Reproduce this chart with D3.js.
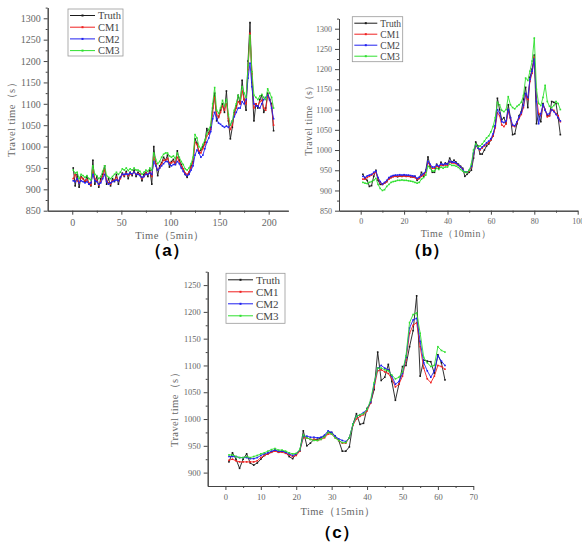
<!DOCTYPE html>
<html>
<head>
<meta charset="utf-8">
<script src="https://cdn.jsdelivr.net/npm/d3@7"></script>
<style>
  body { margin: 0; background: #fff; }
</style>
</head>
<body>
<div id="chart"></div>
<script>
// Series names and colours (shared by the three panels)
const seriesNames = ["Truth", "CM1", "CM2", "CM3"];
const seriesColors = ["#1a1a1a", "#f02020", "#2020f0", "#30e030"];

// Panel (a): 5 min intervals, read every 2nd step off the picture
const timeA = d3.range(1, 206, 2);
const truthA = [950,908,935,905,930,925,918,930,912,908,
  968,912,930,905,925,935,955,912,925,908,
  925,918,935,912,928,938,930,942,925,940,
  932,945,930,940,935,920,935,940,930,945,
  912,1000,960,932,955,962,975,968,980,952,
  965,970,958,990,968,958,948,935,928,940,
  955,965,1018,1008,985,992,1000,1010,1042,1030,
  1045,1090,1125,1060,1070,1085,1100,1080,1130,1060,
  1018,1045,1080,1095,1120,1100,1155,1110,1085,1200,
  1290,1150,1060,1100,1090,1110,1120,1080,1090,1125,
  1110,1100,1037];
const cm1A = [925,935,920,915,928,925,920,922,915,910,
  945,925,920,910,918,930,945,920,915,912,
  920,922,928,920,925,935,932,938,932,936,
  935,940,935,936,935,925,930,938,935,940,
  930,975,960,945,950,960,968,968,972,962,
  962,965,960,975,965,955,948,938,935,940,
  950,962,1010,1005,990,985,995,1005,1025,1030,
  1040,1080,1115,1075,1068,1080,1095,1085,1100,1065,
  1040,1050,1075,1090,1105,1100,1130,1110,1100,1180,
  1265,1170,1090,1100,1095,1105,1108,1090,1085,1120,
  1110,1095,1050];
const cm2A = [920,918,925,915,920,918,915,918,912,915,
  935,920,918,912,915,925,935,918,912,915,
  918,920,922,920,928,935,935,936,935,938,
  936,940,935,935,932,928,930,935,935,938,
  935,965,955,945,950,955,960,965,965,958,
  955,958,958,965,960,950,942,935,932,935,
  945,955,980,992,985,975,980,995,1010,1020,
  1035,1065,1080,1065,1055,1052,1048,1045,1048,1045,
  1050,1060,1070,1080,1090,1090,1105,1100,1110,1160,
  1195,1140,1100,1095,1095,1090,1100,1110,1115,1120,
  1110,1090,1065];
const cm3A = [945,938,940,925,935,932,928,932,925,922,
  955,935,932,925,930,942,955,932,928,925,
  930,935,940,935,940,948,945,950,944,948,
  945,950,945,945,942,935,940,945,942,950,
  945,985,970,960,965,975,982,985,985,978,
  975,978,972,985,975,965,958,948,945,950,
  960,975,1028,1020,1000,995,1005,1015,1030,1040,
  1050,1100,1138,1085,1078,1090,1108,1095,1110,1075,
  1050,1060,1085,1100,1120,1110,1140,1125,1115,1190,
  1260,1175,1120,1115,1110,1118,1122,1115,1110,1135,
  1125,1115,1090];

// Panel (b): 10 min intervals
const timeB = d3.range(1, 93);
const truthB = [940,930,925,910,912,935,950,925,915,915,
  918,922,930,932,935,936,934,936,935,937,
  935,936,934,933,935,925,930,945,935,950,
  983,960,945,945,965,955,970,962,968,965,
  980,970,975,970,965,960,955,935,940,945,
  950,980,1020,1010,990,990,1000,1010,1015,1025,
  1035,1060,1128,1100,1075,1080,1065,1112,1080,1038,
  1040,1065,1085,1095,1125,1155,1105,1180,1200,1235,
  1065,1090,1070,1115,1100,1085,1085,1120,1118,1115,
  1080,1038];
const cm1B = [928,928,932,935,938,942,945,930,920,915,
  918,922,928,932,934,935,935,936,935,936,
  935,935,934,933,932,928,930,935,938,945,
  968,962,955,955,960,958,963,962,963,962,
  970,968,968,966,962,958,952,945,945,948,
  958,990,1010,1005,1000,1005,1010,1015,1018,1025,
  1035,1055,1092,1085,1062,1058,1065,1095,1078,1060,
  1058,1068,1078,1088,1105,1135,1125,1170,1190,1230,
  1130,1090,1085,1110,1100,1082,1085,1100,1098,1090,
  1085,1070];
const cm2B = [935,932,936,938,940,945,948,932,922,916,
  920,925,932,935,937,938,938,939,938,939,
  938,938,937,936,935,930,933,938,942,948,
  972,965,958,958,963,960,966,964,966,965,
  972,970,970,968,963,958,952,946,946,950,
  960,992,1012,1005,1002,1008,1012,1018,1022,1028,
  1040,1060,1100,1092,1070,1068,1072,1100,1080,1062,
  1060,1070,1082,1092,1110,1140,1130,1175,1195,1225,
  1120,1065,1090,1112,1098,1088,1090,1100,1095,1088,
  1080,1072];
const cm3B = [920,918,917,920,922,925,930,915,905,900,
  902,910,915,920,922,923,925,925,926,925,
  925,924,923,922,920,918,920,928,932,938,
  960,955,948,948,955,952,958,955,958,958,
  965,962,962,960,957,952,948,945,945,950,
  965,1000,1015,1008,1010,1015,1022,1030,1035,1045,
  1058,1080,1118,1112,1098,1095,1100,1132,1112,1105,
  1102,1108,1112,1118,1135,1178,1172,1195,1220,1277,
  1150,1115,1110,1130,1160,1120,1108,1105,1110,1120,
  1115,1100];

// Panel (c): 15 min intervals
const timeC = d3.range(1, 63);
const truthC = [920,937,925,908,925,935,918,914,918,925,
  932,935,938,942,938,940,938,930,926,935,
  940,978,950,955,962,962,965,968,975,975,
  968,960,940,940,948,990,1010,990,992,1020,
  1030,1055,1125,1072,1078,1102,1070,1035,1065,1098,
  1100,1135,1165,1230,1080,1110,1108,1107,1085,1120,
  1105,1073];
const cm1C = [923,925,922,920,920,920,920,920,922,928,
  932,935,938,940,938,938,936,933,930,932,
  940,965,965,962,962,960,962,965,972,972,
  965,960,955,955,965,988,1000,1005,1008,1015,
  1030,1060,1090,1092,1088,1085,1075,1060,1065,1080,
  1110,1160,1175,1180,1135,1095,1075,1068,1080,1100,
  1098,1093];
const cm2C = [930,930,930,928,928,928,926,926,928,932,
  935,937,940,942,940,940,938,935,932,935,
  942,968,968,966,966,965,966,970,978,975,
  968,963,960,958,965,990,1005,1008,1012,1018,
  1032,1065,1095,1100,1095,1092,1080,1065,1070,1085,
  1115,1170,1185,1188,1145,1105,1090,1078,1090,1118,
  1108,1100];
const cm3C = [933,933,930,928,928,930,928,930,932,935,
  937,940,943,945,942,942,940,937,935,936,
  943,970,965,962,960,960,962,967,975,972,
  965,960,956,956,965,990,1005,1008,1010,1018,
  1035,1068,1095,1095,1092,1090,1082,1075,1078,1088,
  1118,1180,1195,1198,1160,1115,1105,1098,1100,1135,
  1128,1125];

// Tick values
const xTicksA = [0, 50, 100, 150, 200];
const xMinorA = [25, 75, 125, 175];
const xTicksB = [0, 20, 40, 60, 80, 100];
const xMinorB = [10, 30, 50, 70, 90];
const xTicksC = [0, 10, 20, 30, 40, 50, 60, 70];
const xMinorC = [5, 15, 25, 35, 45, 55, 65];
const yTicksAB = [850, 900, 950, 1000, 1050, 1100, 1150, 1200, 1250, 1300];
const yMinorAB = [875, 925, 975, 1025, 1075, 1125, 1175, 1225, 1275, 1325];
const yTicksC = [900, 950, 1000, 1050, 1100, 1150, 1200, 1250];
const yMinorC = [925, 975, 1025, 1075, 1125, 1175, 1225, 1275];

const W = 582, H = 546;
const svg = d3.select("#chart").append("svg")
  .attr("width", W).attr("height", H)
  .style("background", "#fff");

const tickFont = "'Liberation Serif', 'DejaVu Serif', serif";
const gray = "#666";

const panels = [
  {
    time: timeA, series: [truthA, cm1A, cm2A, cm3A],
    xDomain: [-25, 220], yDomain: [850, 1325],
    left: 47.7, right: 288.3, top: 7.6, bottom: 210.7,
    xTicks: xTicksA, xMinor: xMinorA, yTicks: yTicksAB, yMinor: yMinorAB,
    tickSize: 10, labelSize: 10.5,
    xLabel: "Time（5min）", xLabelPos: [170, 239],
    yLabelPos: [15, 117],
    title: "（a）", titlePos: [167, 256],
    legend: { x: 68, y: 9, w: 55, h: 47, row: 11.7, line: 25, size: 10.5 }
  },
  {
    time: timeB, series: [truthB, cm1B, cm2B, cm3B],
    xDomain: [-10, 100], yDomain: [850, 1325],
    left: 339, right: 577.7, top: 18.6, bottom: 210.7,
    xTicks: xTicksB, xMinor: xMinorB, yTicks: yTicksAB, yMinor: yMinorAB,
    tickSize: 8, labelSize: 10,
    xLabel: "Time（10min）", xLabelPos: [456, 237],
    yLabelPos: [312, 118],
    title: "（b）", titlePos: [427, 256],
    legend: { x: 352.3, y: 16.7, w: 50.4, h: 45, row: 11, line: 23, size: 9.5 }
  },
  {
    time: timeC, series: [truthC, cm1C, cm2C, cm3C],
    xDomain: [-5, 70], yDomain: [875, 1275],
    left: 207.7, right: 473.3, top: 271.7, bottom: 486,
    xTicks: xTicksC, xMinor: xMinorC, yTicks: yTicksC, yMinor: yMinorC,
    tickSize: 8.5, labelSize: 10.5,
    xLabel: "Time（15min）", xLabelPos: [338, 515],
    yLabelPos: [178, 407],
    title: "（c）", titlePos: [337, 538],
    legend: { x: 226, y: 273.3, w: 59, h: 50, row: 12, line: 25, size: 11 }
  }
];

function styleAxis(sel, size) {
  sel.selectAll("path, line").attr("stroke", "#444").attr("stroke-width", 1);
  sel.selectAll("text").attr("fill", gray)
    .style("font-family", tickFont).style("font-size", size + "px");
}

function drawPanel(p) {
  const x = d3.scaleLinear().domain(p.xDomain).range([p.left, p.right]);
  const y = d3.scaleLinear().domain(p.yDomain).range([p.bottom, p.top]);
  const g = svg.append("g");
  const fmt = d3.format("d");

  // x axis: major + minor ticks
  const gx = g.append("g").attr("transform", `translate(0,${p.bottom})`)
    .call(d3.axisBottom(x).tickValues(p.xTicks).tickFormat(fmt)
      .tickSize(4).tickSizeOuter(0).tickPadding(4));
  styleAxis(gx, p.tickSize);
  const gxm = g.append("g").attr("transform", `translate(0,${p.bottom})`)
    .call(d3.axisBottom(x).tickValues(p.xMinor).tickSize(2).tickSizeOuter(0).tickFormat(""));
  styleAxis(gxm, p.tickSize);

  // y axis: major + minor ticks
  const gy = g.append("g").attr("transform", `translate(${p.left},0)`)
    .call(d3.axisLeft(y).tickValues(p.yTicks).tickFormat(fmt)
      .tickSize(4).tickSizeOuter(0).tickPadding(3));
  styleAxis(gy, p.tickSize);
  const gym = g.append("g").attr("transform", `translate(${p.left},0)`)
    .call(d3.axisLeft(y).tickValues(p.yMinor).tickSize(2).tickSizeOuter(0).tickFormat(""));
  styleAxis(gym, p.tickSize);

  // axis titles
  g.append("text")
    .attr("x", p.xLabelPos[0]).attr("y", p.xLabelPos[1])
    .attr("text-anchor", "middle").attr("fill", gray)
    .style("font-family", tickFont).style("font-size", p.labelSize + "px")
    .style("letter-spacing", "0.4px")
    .text(p.xLabel);
  g.append("text")
    .attr("transform", `translate(${p.yLabelPos[0]},${p.yLabelPos[1]}) rotate(-90)`)
    .attr("text-anchor", "middle").attr("fill", gray)
    .style("font-family", tickFont).style("font-size", p.labelSize + "px")
    .style("letter-spacing", "0.4px")
    .text("Travel time（s）");

  // series lines with small markers
  const line = d3.line().x(d => x(d[0])).y(d => y(d[1]));
  p.series.forEach((vals, i) => {
    const pts = vals.map((v, j) => [p.time[j], v]);
    g.append("path").datum(pts)
      .attr("fill", "none").attr("stroke", seriesColors[i])
      .attr("stroke-width", 0.9).attr("d", line);
    g.append("g").selectAll("rect").data(pts).enter().append("rect")
      .attr("x", d => x(d[0]) - 0.8).attr("y", d => y(d[1]) - 0.8)
      .attr("width", 1.6).attr("height", 1.6)
      .attr("fill", seriesColors[i]);
  });

  // legend
  const L = p.legend;
  const lg = g.append("g");
  lg.append("rect").attr("x", L.x).attr("y", L.y).attr("width", L.w).attr("height", L.h)
    .attr("fill", "#fff").attr("stroke", "#999").attr("stroke-width", 0.8);
  seriesNames.forEach((name, i) => {
    const ly = L.y + 6.5 + i * L.row;
    lg.append("line").attr("x1", L.x + 2).attr("x2", L.x + 2 + L.line)
      .attr("y1", ly).attr("y2", ly)
      .attr("stroke", seriesColors[i]).attr("stroke-width", 1);
    lg.append("rect").attr("x", L.x + 2 + L.line / 2 - 1).attr("y", ly - 1)
      .attr("width", 2).attr("height", 2).attr("fill", seriesColors[i]);
    lg.append("text").attr("x", L.x + L.line + 5).attr("y", ly + L.size * 0.35)
      .attr("fill", "#444")
      .style("font-family", tickFont).style("font-size", L.size + "px")
      .text(name);
  });

  // panel title
  g.append("text")
    .attr("x", p.titlePos[0]).attr("y", p.titlePos[1])
    .attr("text-anchor", "middle").attr("fill", "#000")
    .style("font-family", "'Liberation Sans', Arial, sans-serif")
    .style("font-weight", "bold").style("font-size", "17px")
    .text(p.title);
}

panels.forEach(drawPanel);
</script>
</body>
</html>
